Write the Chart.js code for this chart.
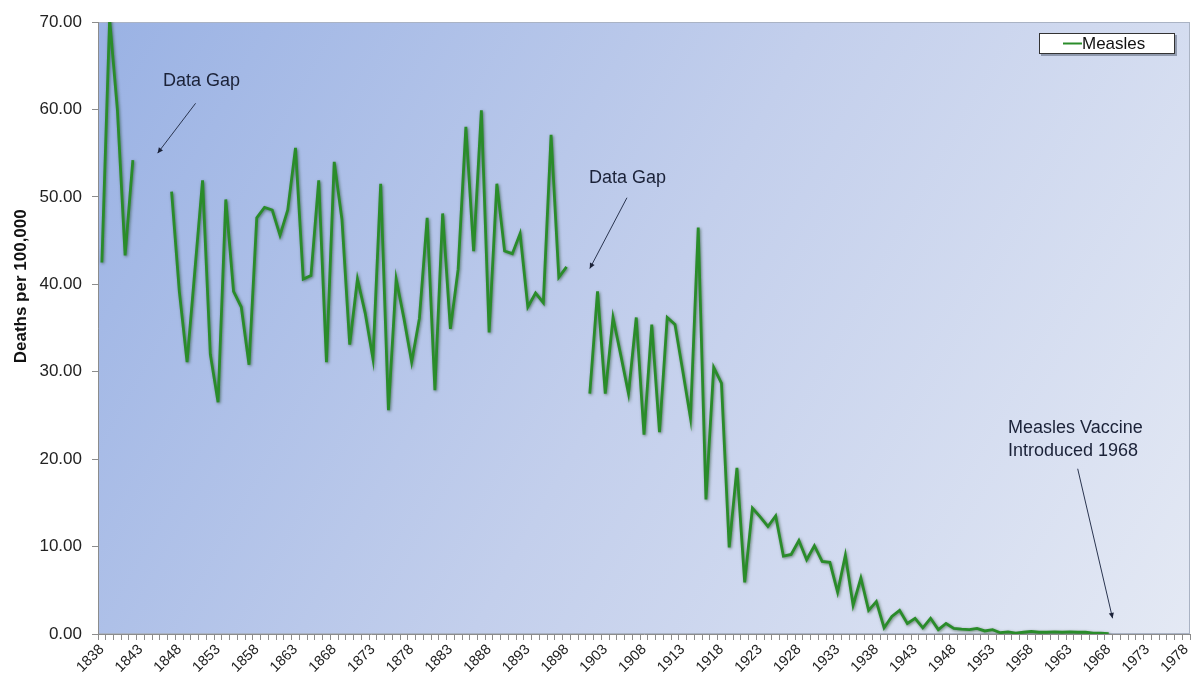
<!DOCTYPE html>
<html>
<head>
<meta charset="utf-8">
<script src="https://cdn.jsdelivr.net/npm/chart.js@4.4.1/dist/chart.umd.min.js"></script>
<style>
  html, body { margin: 0; padding: 0; background: #fff; }
  #wrap { width: 1201px; height: 693px; }
</style>
</head>
<body>
<div id="wrap"><canvas id="chart" width="1201" height="693"></canvas></div>
<script>
const firstYear = 1838;
const lastYear = 1978;
const labelEvery = 5;

// measles deaths per 100,000, one array per unbroken stretch of the line
const run1838 = [42.5, 70.3, 60.0, 43.3, 54.2];
const run1847 = [
    50.6, 39.2, 31.1, 41.5, 51.9, 32.0, 26.5, 49.7, 39.2, 37.4,
    30.8, 47.6, 48.8, 48.5, 45.6, 48.5, 55.6, 40.6, 41.0, 51.9,
    31.1, 54.0, 47.4, 33.1, 40.6, 36.7, 31.5, 51.5, 25.6, 40.6,
    36.1, 31.1, 36.1, 47.6, 27.9, 48.1, 34.9, 41.7, 58.0, 43.8,
    59.9, 34.5, 51.5, 43.8, 43.5, 45.8, 37.4, 39.0, 37.9, 57.1,
    40.8, 42.0
];
const run1901 = [
    27.5, 39.2, 27.5, 36.2, 31.9, 27.5, 36.2, 22.8, 35.4, 23.1,
    36.2, 35.4, 30.1, 24.7, 46.5, 15.4, 30.5, 28.7, 9.9, 19.0,
    5.9, 14.4, 13.4, 12.3, 13.5, 8.9, 9.1, 10.7, 8.5, 10.1,
    8.3, 8.2, 4.8, 9.0, 3.3, 6.4, 2.7, 3.7, 0.7, 2.0,
    2.7, 1.2, 1.8, 0.7, 1.8, 0.5, 1.2, 0.65, 0.55, 0.5,
    0.65, 0.35, 0.5, 0.15, 0.25, 0.1, 0.2, 0.3, 0.2, 0.2,
    0.25, 0.2, 0.25, 0.2, 0.2, 0.1, 0.1, 0.05
];

const yTicks = [0, 10, 20, 30, 40, 50, 60, 70];
const yTitle = 'Deaths per 100,000';

// callouts, placed in data units (year, deaths)
const notes = [
    { lines: ['Data Gap'], at: [1845.9, 63.2], from: [1850.1, 60.7], to: [1845.2, 55.0] },
    { lines: ['Data Gap'], at: [1900.9, 52.1], from: [1905.8, 49.9], to: [1901.0, 41.8] },
    { lines: ['Measles Vaccine', 'Introduced 1968'], at: [1955.0, 23.6], from: [1964.0, 18.9], to: [1968.5, 1.8] }
];

const years = [];
for (let y = firstYear; y <= lastYear; y++) years.push(String(y));
const deaths = years.map(() => null);
function place(start, run) {
    run.forEach((v, i) => { deaths[start - firstYear + i] = v; });
}
place(1838, run1838);
place(1847, run1847);
place(1901, run1901);

const FONT = "'Liberation Sans', Arial, sans-serif";

const plotBackground = {
    id: 'plotBackground',
    beforeDraw(chart) {
        const { ctx, chartArea: a } = chart;
        const g = ctx.createLinearGradient(a.left, a.top, a.right, a.bottom);
        g.addColorStop(0, '#9ab2e4');
        g.addColorStop(0.5, '#c3cfec');
        g.addColorStop(1, '#e4e9f4');
        ctx.save();
        ctx.fillStyle = g;
        ctx.fillRect(a.left, a.top, a.width, a.height);
        ctx.strokeStyle = '#aab3c4';
        ctx.lineWidth = 1;
        ctx.strokeRect(a.left + 0.5, a.top + 0.5, a.width - 1, a.height - 1);
        ctx.restore();
    }
};

const lineShadow = {
    id: 'lineShadow',
    beforeDatasetDraw(chart) {
        const c = chart.ctx;
        c.save();
        c.shadowColor = 'rgba(0,45,0,0.5)';
        c.shadowBlur = 3;
        c.shadowOffsetX = 1;
        c.shadowOffsetY = 1;
    },
    afterDatasetDraw(chart) {
        chart.ctx.restore();
    }
};

// axis title sits a bit above the middle of the axis, level with 40.00
const sideTitle = {
    id: 'sideTitle',
    afterDraw(chart) {
        const { ctx, scales } = chart;
        ctx.save();
        ctx.translate(21, scales.y.getPixelForValue(40) + 2);
        ctx.rotate(-Math.PI / 2);
        ctx.font = 'bold 17px ' + FONT;
        ctx.fillStyle = '#111';
        ctx.textAlign = 'center';
        ctx.textBaseline = 'middle';
        ctx.fillText(yTitle, 0, 0);
        ctx.restore();
    }
};

const callouts = {
    id: 'callouts',
    afterDatasetsDraw(chart) {
        const { ctx, scales } = chart;
        const px = yr => scales.x.getPixelForValue(yr - firstYear);
        const py = v => scales.y.getPixelForValue(v);
        ctx.save();
        ctx.font = '18px ' + FONT;
        ctx.fillStyle = '#1b2238';
        ctx.textBaseline = 'middle';
        ctx.textAlign = 'left';
        notes.forEach(n => {
            n.lines.forEach((t, i) => ctx.fillText(t, px(n.at[0]), py(n.at[1]) + i * 23));
            const x1 = px(n.from[0]), y1 = py(n.from[1]);
            const x2 = px(n.to[0]), y2 = py(n.to[1]);
            ctx.strokeStyle = '#2a3550';
            ctx.lineWidth = 1;
            ctx.beginPath();
            ctx.moveTo(x1, y1);
            ctx.lineTo(x2, y2);
            ctx.stroke();
            // little arrow head
            const ang = Math.atan2(y2 - y1, x2 - x1);
            ctx.beginPath();
            ctx.moveTo(x2, y2);
            ctx.lineTo(x2 - 6 * Math.cos(ang - 0.45), y2 - 6 * Math.sin(ang - 0.45));
            ctx.lineTo(x2 - 6 * Math.cos(ang + 0.45), y2 - 6 * Math.sin(ang + 0.45));
            ctx.closePath();
            ctx.fillStyle = '#1b2238';
            ctx.fill();
        });
        ctx.restore();
    }
};

const boxLegend = {
    id: 'boxLegend',
    afterDraw(chart) {
        const { ctx, chartArea: a } = chart;
        const ds = chart.data.datasets[0];
        const w = 136, h = 21;
        const x = a.right - 15 - w, y = a.top + 11;
        ctx.save();
        ctx.fillStyle = 'rgba(90,100,120,0.55)';
        ctx.fillRect(x + 2, y + 2, w, h);
        ctx.fillStyle = '#fff';
        ctx.fillRect(x, y, w, h);
        ctx.strokeStyle = '#333';
        ctx.lineWidth = 1;
        ctx.strokeRect(x + 0.5, y + 0.5, w - 1, h - 1);
        ctx.strokeStyle = ds.borderColor;
        ctx.lineWidth = 2;
        ctx.beginPath();
        ctx.moveTo(x + 24, y + h / 2);
        ctx.lineTo(x + 43, y + h / 2);
        ctx.stroke();
        ctx.font = '17px ' + FONT;
        ctx.fillStyle = '#111';
        ctx.textBaseline = 'middle';
        ctx.fillText(ds.label, x + 43, y + h / 2 + 1);
        ctx.restore();
    }
};

new Chart(document.getElementById('chart'), {
    type: 'line',
    data: {
        labels: years,
        datasets: [{
            label: 'Measles',
            data: deaths,
            borderColor: '#2a8c2a',
            borderWidth: 2.8,
            pointRadius: 0,
            tension: 0,
            spanGaps: false
        }]
    },
    options: {
        responsive: false,
        animation: false,
        devicePixelRatio: 1,
        layout: { padding: { top: 22, right: 11, left: 0, bottom: 0 } },
        plugins: {
            legend: { display: false },
            tooltip: { enabled: false }
        },
        scales: {
            x: {
                offset: true,
                afterFit: s => { s.height = 59; },
                border: { display: true, color: '#8c8c8c' },
                grid: {
                    display: true,
                    offset: true,
                    drawOnChartArea: false,
                    drawTicks: true,
                    tickLength: 6,
                    color: '#8c8c8c'
                },
                ticks: {
                    autoSkip: false,
                    minRotation: 45,
                    maxRotation: 45,
                    padding: 1,
                    color: '#222',
                    font: { family: FONT, size: 14.5 },
                    callback(val) {
                        const yr = Number(this.getLabelForValue(val));
                        return (yr - firstYear) % labelEvery === 0 ? String(yr) : '';
                    }
                }
            },
            y: {
                min: yTicks[0],
                max: yTicks[yTicks.length - 1],
                afterFit: s => { s.width = 98; },
                afterBuildTicks: s => { s.ticks = yTicks.map(v => ({ value: v })); },
                border: { display: true, color: '#8c8c8c' },
                grid: {
                    drawOnChartArea: false,
                    drawTicks: true,
                    tickLength: 6,
                    color: '#8c8c8c'
                },
                ticks: {
                    padding: 10,
                    color: '#222',
                    font: { family: FONT, size: 17 },
                    callback: v => Number(v).toFixed(2)
                }
            }
        }
    },
    plugins: [plotBackground, lineShadow, callouts, boxLegend, sideTitle]
});
</script>
</body>
</html>
